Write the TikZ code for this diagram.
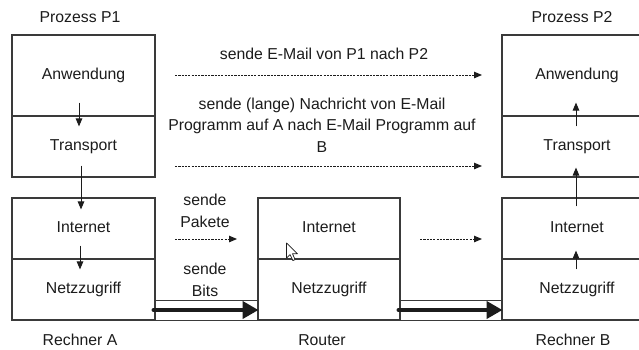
\documentclass[tikz,border=0pt]{standalone}
\usepackage{fontspec}
\setmainfont{Liberation Sans}
\usetikzlibrary{arrows.meta,calc}
\definecolor{boxline}{HTML}{3A3A3A}
\definecolor{ink}{HTML}{1C1C1C}
\begin{document}
\begin{tikzpicture}[x=1pt,y=-1pt,
  font=\fontsize{15.8}{21.5}\selectfont,
  every node/.style={text=ink},
  layer/.style={draw=boxline, line width=1.1pt, inner sep=0pt,
    minimum width=143pt, text height=11.5pt, text depth=3pt},
  lbl/.style={inner sep=0pt, text height=11.5pt, text depth=3pt},
  chan/.style={draw=boxline, line width=1pt, inner sep=0pt,
    minimum width=103pt, minimum height=20pt},
  upcall/.style={draw=ink, line width=1pt, -{Triangle[length=8pt,width=6.5pt]}},
  peer/.style={draw=ink, line width=1pt, dash pattern=on 2.2pt off 1.1pt,
    -{Triangle[length=8pt,width=6.5pt]}},
  bits/.style={draw=ink, line width=4pt, line cap=round,
    -{Triangle[length=16pt,width=17pt]}}
]
\useasboundingbox (0,0) rectangle (639,349);
\clip (0,0) rectangle (639,349);
\fill[white] (0,0) rectangle (639,349);

% host A
\node[layer, minimum height=81pt] (anwA) at (83.5,75.5) {Anwendung};
\node[layer, minimum height=61pt] (traA) at (83.5,146.5) {Transport};
\node[layer, minimum height=61pt] (intA) at (83.5,228.5) {Internet};
\node[layer, minimum height=61pt] (netA) at (83.5,289.5) {Netzzugriff};

% router
\node[layer, minimum width=142pt, minimum height=61pt] (intR) at (329,228.5) {Internet};
\node[layer, minimum width=142pt, minimum height=61pt] (netR) at (329,289.5) {Netzzugriff};

% host B
\node[layer, minimum width=150pt, minimum height=81pt] (anwB) at (577,75.5) {Anwendung};
\node[layer, minimum width=150pt, minimum height=61pt] (traB) at (577,146.5) {Transport};
\node[layer, minimum width=150pt, minimum height=61pt] (intB) at (577,228.5) {Internet};
\node[layer, minimum width=150pt, minimum height=61pt] (netB) at (577,289.5) {Netzzugriff};

% captions
\node[lbl] (capP1) at (80,18) {Prozess P1};
\node[lbl] (capP2) at (572,18) {Prozess P2};
\node[lbl] (capA) at (80,341) {Rechner A};
\node[lbl] (capR) at (322,341) {Router};
\node[lbl] (capB) at (573,341) {Rechner B};

% passing down the stack in A
\draw[upcall] ($(anwA.south)+(-4.5,-14)$) -- ($(traA.north)+(-4.5,11)$);
\draw[upcall] ($(traA.south)+(-2.5,-12)$) -- ($(intA.north)+(-2.5,12)$);
\draw[upcall] ($(intA.south)+(-3.5,-14)$) -- ($(netA.north)+(-3.5,11)$);

% passing up the stack in B
\draw[upcall] ($(traB.north)+(-1,11)$) -- ($(anwB.south)+(-1,-14)$);
\draw[upcall] ($(intB.north)+(-1,9)$) -- ($(traB.south)+(-1,-10)$);
\draw[upcall] ($(netB.north)+(-1,11)$) -- ($(intB.south)+(-1,-9)$);

% logical peer communication
\coordinate (mailS) at (175,75);
\coordinate (mailE) at (482,75);
\coordinate (msgS) at (175,166);
\coordinate (msgE) at (482,166);
\coordinate (pktS) at (175,239);
\coordinate (pktE) at (237,239);
\coordinate (fwdS) at (420,239);
\coordinate (fwdE) at (482,239);
\node[lbl] (mailL) at (324,55) {sende E-Mail von P1 nach P2};
\node[align=center, inner sep=0pt] (msgL) at (322,125)
  {sende (lange) Nachricht von E-Mail\\Programm auf A nach E-Mail Programm auf\\B};
\node[align=center, inner sep=0pt] (pktL) at (205,211) {sende\\Pakete};
\node[align=center, inner sep=0pt] (bitL) at (205,280) {sende\\Bits};
\draw[peer] (mailS) -- (mailE);
\draw[peer] (msgS) -- (msgE);
\draw[peer] (pktS) -- (pktE);
\draw[peer] (fwdS) -- (fwdE);

% physical links
\node[chan] (linkAR) at (206.5,310) {};
\node[chan, minimum width=102pt] (linkRB) at (451,310) {};
\draw[bits] ($(linkAR.west)+(-1,0)$) -- (linkAR.east);
\draw[bits] ($(linkRB.west)+(-1,0)$) -- (linkRB.east);

% mouse pointer
\draw[fill=white, draw=ink, line width=0.7pt, line join=round]
  (286.5,243) -- ++(0,15) -- ++(3.6,-3.4) -- ++(2.8,6) -- ++(2.2,-1)
  -- ++(-2.6,-5.8) -- ++(5,0) -- cycle;
\end{tikzpicture}
\end{document}
